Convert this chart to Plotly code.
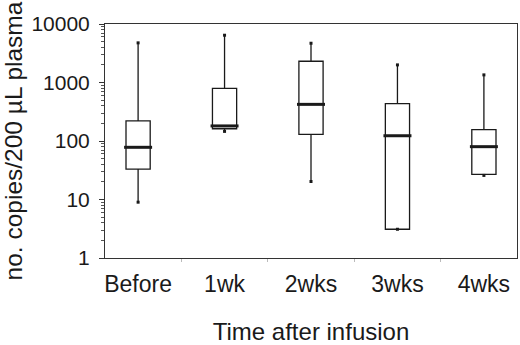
import plotly.graph_objects as go

categories = ["Before", "1wk", "2wks", "3wks", "4wks"]
upper_whisker = [4760, 6430, 4690, 2000, 1350]
q3_values = [220, 796, 2306, 435, 156]
median_values = [78, 181, 423, 123, 80]
q1_values = [33, 162, 130, 3.1, 26.8]
lower_whisker = [9.0, 146, 20.3, 3.1, 25.8]

y_title = "no. copies/200 µL plasma"
x_title = "Time after infusion"

FONT = "Liberation Sans, Arial, sans-serif"
INK = "#1a1a1a"

fig = go.Figure()

fig.add_trace(go.Box(
    x=categories,
    q1=q1_values, median=median_values, q3=q3_values,
    lowerfence=lower_whisker, upperfence=upper_whisker,
    boxpoints=False, whiskerwidth=0, width=0.28,
    fillcolor="white", line=dict(color=INK, width=1.3),
    showlegend=False, hoverinfo="skip",
))

# thick median bars
fig.add_trace(go.Scatter(
    x=categories, y=median_values, mode="markers",
    marker=dict(symbol="line-ew", size=20, line=dict(color=INK, width=3)),
    showlegend=False, hoverinfo="skip",
))

# small dots at whisker ends
fig.add_trace(go.Scatter(
    x=categories * 2, y=upper_whisker + lower_whisker, mode="markers",
    marker=dict(symbol="square", size=3, color=INK),
    showlegend=False, hoverinfo="skip",
))

minor_positions = [m * 10 ** e for e in range(4) for m in range(2, 10)]

fig.update_layout(
    width=520, height=345,
    margin=dict(l=105, r=3, t=24, b=87),
    paper_bgcolor="white", plot_bgcolor="white",
    font=dict(family=FONT, color=INK),
)

fig.update_xaxes(
    type="category", automargin=False,
    showline=True, linecolor="#333", linewidth=1, mirror=True,
    ticks="outside", ticklen=3, tickcolor="#bbb", tickson="boundaries",
    ticklabelstandoff=5,
    tickfont=dict(size=23, family=FONT, color=INK),
    title=dict(text=x_title, font=dict(size=24, family=FONT, color=INK), standoff=31),
    showgrid=False, zeroline=False,
)

fig.update_yaxes(
    type="log", range=[0, 4], automargin=False,
    tickmode="linear", tick0=0, dtick=1, tickformat="d",
    showline=True, linecolor="#333", linewidth=1, mirror=True,
    ticks="outside", ticklen=5, tickcolor="#333",
    ticklabelstandoff=5,
    minor=dict(ticks="outside", ticklen=3, tickcolor="#555",
               tickmode="array", tickvals=minor_positions, showgrid=False),
    tickfont=dict(size=21, family=FONT, color=INK),
    title=dict(text=y_title, font=dict(size=24.5, family=FONT, color=INK), standoff=1),
    showgrid=False, zeroline=False,
)

fig.write_html("out.html", config={"displayModeBar": False},
               post_script="document.body.style.margin='0';")
